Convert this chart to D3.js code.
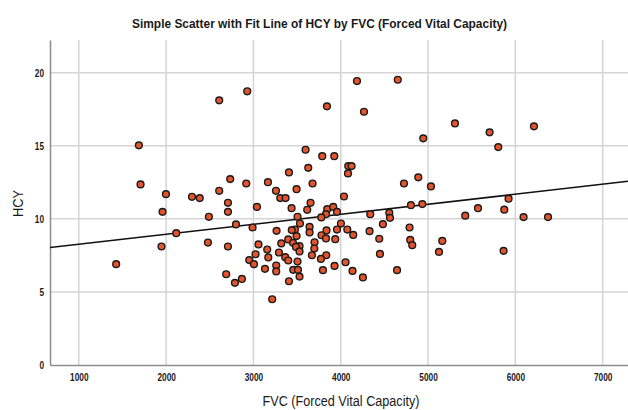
<!DOCTYPE html>
<html>
<head>
<meta charset="utf-8">
<script src="https://cdn.jsdelivr.net/npm/d3@7"></script>
<style>
    body { margin: 0; background: #ffffff; }
    text { font-family: "Liberation Sans", Arial, sans-serif; }
</style>
</head>
<body>
<div id="graph"></div>
<script>
// FVC (x) and HCY (y) for each case
const fvc = [2608, 2929, 1688, 1707, 1998, 2296, 2385, 2608, 2734, 2918,
    2708, 1959, 2490, 2708, 3842, 4186, 4653, 4266, 3597, 3788,
    3926, 3628, 3407, 4086, 4124, 4083, 3166, 3677, 3258, 3494,
    3307, 3368, 4037, 3654, 3040, 3437, 3616, 3845, 3914, 3957,
    3831, 3505, 3777, 4338, 4556, 4564, 5308, 4945, 5705, 5804,
    6213, 4724, 4888, 5033, 5922, 4804, 4934, 5426, 5572, 5873,
    6094, 6374, 2800, 2116, 1947, 2479, 2708, 1428, 2952, 2688,
    2788, 2868, 2990, 3533, 3475, 3265, 3643, 3643, 3780, 3837,
    3957, 4002, 4075, 4143, 4330, 4483, 4441, 4449, 4645, 3831,
    3937, 3494, 3399, 3319, 3453, 3528, 3487, 3700, 3697, 3528,
    3670, 3834, 3773, 3292, 3158, 3058, 3024, 3170, 3364, 3399,
    3006, 3505, 3261, 3261, 3132, 3456, 3510, 3528, 3407, 3796,
    3929, 4055, 4135, 4254, 3215, 4788, 4796, 4819, 5163, 5125,
    5865, 3439];
const hcy = [18.11, 18.73, 15.03, 12.36, 11.69, 11.51, 11.42, 11.92, 12.72, 12.42,
    11.10, 10.48, 10.14, 10.48, 17.70, 19.43, 19.52, 17.33, 14.73, 14.29,
    14.29, 13.49, 13.18, 13.61, 13.61, 13.11, 12.51, 12.42, 11.92, 12.03,
    11.42, 11.42, 11.53, 11.10, 10.82, 10.73, 10.62, 10.66, 10.82, 10.48,
    10.32, 10.14, 10.10, 10.32, 10.41, 10.07, 16.53, 15.51, 15.92, 14.91,
    16.33, 12.42, 12.84, 12.22, 11.38, 10.94, 11.01, 10.22, 10.73, 10.63,
    10.12, 10.12, 9.62, 9.02, 8.11, 8.38, 8.11, 6.90, 7.18, 6.21,
    5.62, 5.89, 9.41, 9.68, 9.27, 9.18, 9.45, 9.07, 8.88, 9.21,
    9.27, 9.68, 9.27, 8.90, 9.16, 9.64, 8.64, 7.60, 6.49, 8.66,
    8.61, 8.82, 8.59, 8.32, 8.36, 8.13, 8.08, 8.40, 7.97, 7.77,
    7.51, 7.51, 7.26, 7.70, 7.90, 8.25, 7.58, 7.36, 7.38, 7.15,
    6.90, 7.08, 6.81, 6.40, 6.58, 6.51, 6.51, 6.05, 5.73, 6.49,
    6.78, 7.03, 6.44, 5.99, 4.50, 9.41, 8.56, 8.20, 8.49, 7.74,
    7.81, 9.23];

// linear fit line HCY = a + b * FVC
const fitIntercept = 7.58;
const fitSlope = 0.000684;

const xTicks = [1000, 2000, 3000, 4000, 5000, 6000, 7000];
const yTicks = [0, 5, 10, 15, 20];

const width = 628, height = 410;
const margin = {top: 40, right: 0, bottom: 45, left: 50};

let svg = d3.select("#graph")
    .append("svg")
    .attr("width", width)
    .attr("height", height);

let x = d3.scaleLinear()
    .domain([670, 7290])
    .range([margin.left, width - margin.right]);

let y = d3.scaleLinear()
    .domain([0, 22.24])
    .range([height - margin.bottom, margin.top]);

// grid lines
svg.append("g")
    .selectAll("line")
    .data(xTicks)
    .join("line")
    .attr("x1", d => x(d)).attr("x2", d => x(d))
    .attr("y1", y.range()[1]).attr("y2", y(0))
    .attr("stroke", "#d4d4d4")
    .attr("stroke-width", 1.5);

svg.append("g")
    .selectAll("line")
    .data(yTicks.filter(d => d > 0))
    .join("line")
    .attr("x1", x.range()[0]).attr("x2", x.range()[1])
    .attr("y1", d => y(d)).attr("y2", d => y(d))
    .attr("stroke", "#d4d4d4")
    .attr("stroke-width", 1.5);

// axes
let xAxis = svg.append("g")
    .attr("transform", `translate(0, ${y(0)})`)
    .call(d3.axisBottom(x).tickValues(xTicks).tickFormat(d3.format("d"))
        .tickSize(0).tickPadding(8).tickSizeOuter(0));

let yAxis = svg.append("g")
    .attr("transform", `translate(${x.range()[0]}, 0)`)
    .call(d3.axisLeft(y).tickValues(yTicks).tickFormat(d3.format("d"))
        .tickSize(0).tickPadding(6).tickSizeOuter(0));

[xAxis, yAxis].forEach(function(a) {
    a.select(".domain").attr("stroke", "#8c8c8c").attr("stroke-width", 1.5);
    a.selectAll("text")
        .attr("fill", "#1a1a1a")
        .style("font-size", "11px")
        .style("font-weight", "bold")
        // the original labels are drawn narrow
        .attr("textLength", d => String(d).length * 4.6)
        .attr("lengthAdjust", "spacingAndGlyphs");
});

// fit line
svg.append("line")
    .attr("x1", x(x.domain()[0]))
    .attr("y1", y(fitIntercept + fitSlope * x.domain()[0]))
    .attr("x2", x(x.domain()[1]))
    .attr("y2", y(fitIntercept + fitSlope * x.domain()[1]))
    .attr("stroke", "#111")
    .attr("stroke-width", 1.5);

// points
svg.append("g")
    .selectAll("circle")
    .data(d3.range(fvc.length))
    .join("circle")
    .attr("cx", i => x(fvc[i]))
    .attr("cy", i => y(hcy[i]))
    .attr("r", 3.4)
    .attr("fill", "#e4542c")
    .attr("stroke", "#1a1a1a")
    .attr("stroke-width", 1.4);

// title
svg.append("text")
    .attr("x", 319.5)
    .attr("y", 27.5)
    .style("text-anchor", "middle")
    .style("font-size", "13px")
    .style("font-weight", "bold")
    .attr("fill", "#1a1a1a")
    .attr("textLength", 375)
    .attr("lengthAdjust", "spacingAndGlyphs")
    .text("Simple Scatter with Fit Line of HCY by FVC (Forced Vital Capacity)");

// x-axis label
svg.append("text")
    .attr("x", 341)
    .attr("y", 406)
    .style("text-anchor", "middle")
    .style("font-size", "14px")
    .attr("fill", "#1a1a1a")
    .attr("textLength", 157)
    .attr("lengthAdjust", "spacingAndGlyphs")
    .text("FVC (Forced Vital Capacity)");

// y-axis label
svg.append("text")
    .attr("transform", `translate(23, 203.5) rotate(-90)`)
    .style("text-anchor", "middle")
    .style("font-size", "14px")
    .attr("fill", "#1a1a1a")
    .attr("textLength", 27)
    .attr("lengthAdjust", "spacingAndGlyphs")
    .text("HCY");
</script>
</body>
</html>
